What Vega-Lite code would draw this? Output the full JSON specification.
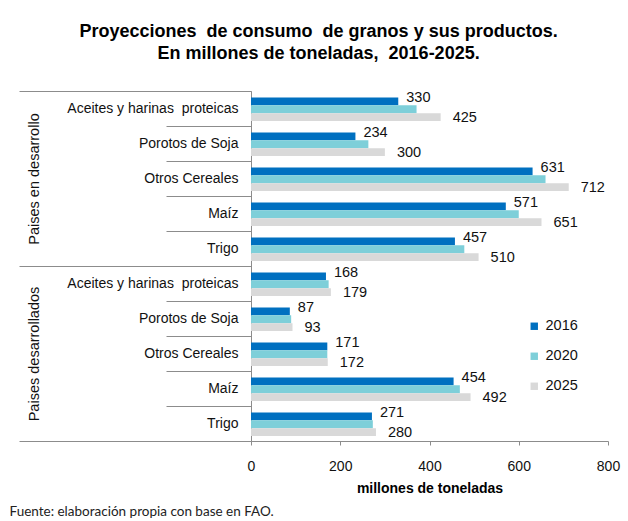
{
  "$schema": "https://vega.github.io/schema/vega-lite/v6.json",
  "padding": {"left": 9, "top": 23, "right": 10, "bottom": 0},
  "background": "white",
  "title": {
    "text": ["Proyecciones\u00a0 de consumo\u00a0 de granos y sus productos.", "En millones de toneladas,\u00a0 2016-2025."],
    "font": "Liberation Sans",
    "fontSize": 18,
    "fontWeight": "bold",
    "color": "#000000",
    "anchor": "middle",
    "frame": "bounds",
    "lineHeight": 22,
    "offset": 21,
    "dx": 4
  },
  "config": {
    "view": {"stroke": null},
    "font": "Liberation Sans"
  },
  "datasets": {
    "valores": [
      {"fila": "desarrollo|Aceites y harinas  proteicas", "anio": "2016", "valor": 330},
      {"fila": "desarrollo|Aceites y harinas  proteicas", "anio": "2020", "valor": 371},
      {"fila": "desarrollo|Aceites y harinas  proteicas", "anio": "2025", "valor": 425},
      {"fila": "desarrollo|Porotos de Soja", "anio": "2016", "valor": 234},
      {"fila": "desarrollo|Porotos de Soja", "anio": "2020", "valor": 263},
      {"fila": "desarrollo|Porotos de Soja", "anio": "2025", "valor": 300},
      {"fila": "desarrollo|Otros Cereales", "anio": "2016", "valor": 631},
      {"fila": "desarrollo|Otros Cereales", "anio": "2020", "valor": 660},
      {"fila": "desarrollo|Otros Cereales", "anio": "2025", "valor": 712},
      {"fila": "desarrollo|Maíz", "anio": "2016", "valor": 571},
      {"fila": "desarrollo|Maíz", "anio": "2020", "valor": 600},
      {"fila": "desarrollo|Maíz", "anio": "2025", "valor": 651},
      {"fila": "desarrollo|Trigo", "anio": "2016", "valor": 457},
      {"fila": "desarrollo|Trigo", "anio": "2020", "valor": 478},
      {"fila": "desarrollo|Trigo", "anio": "2025", "valor": 510},
      {"fila": "desarrollados|Aceites y harinas  proteicas", "anio": "2016", "valor": 168},
      {"fila": "desarrollados|Aceites y harinas  proteicas", "anio": "2020", "valor": 174},
      {"fila": "desarrollados|Aceites y harinas  proteicas", "anio": "2025", "valor": 179},
      {"fila": "desarrollados|Porotos de Soja", "anio": "2016", "valor": 87},
      {"fila": "desarrollados|Porotos de Soja", "anio": "2020", "valor": 90},
      {"fila": "desarrollados|Porotos de Soja", "anio": "2025", "valor": 93},
      {"fila": "desarrollados|Otros Cereales", "anio": "2016", "valor": 171},
      {"fila": "desarrollados|Otros Cereales", "anio": "2020", "valor": 171},
      {"fila": "desarrollados|Otros Cereales", "anio": "2025", "valor": 172},
      {"fila": "desarrollados|Maíz", "anio": "2016", "valor": 454},
      {"fila": "desarrollados|Maíz", "anio": "2020", "valor": 468},
      {"fila": "desarrollados|Maíz", "anio": "2025", "valor": 492},
      {"fila": "desarrollados|Trigo", "anio": "2016", "valor": 271},
      {"fila": "desarrollados|Trigo", "anio": "2020", "valor": 273},
      {"fila": "desarrollados|Trigo", "anio": "2025", "valor": 280}
    ],
    "grupos": [
      {"grupo": "Paises en desarrollo"},
      {"grupo": "Paises desarrollados"}
    ]
  },
  "vconcat": [
    {
      "title": {
        "text": "Fuente: elaboración propia con base en FAO.",
        "orient": "bottom",
        "anchor": "start",
        "frame": "bounds",
        "font": "Lato",
        "fontSize": 13.5,
        "fontWeight": "normal",
        "color": "#222222",
        "offset": 10,
        "dx": -9
      },
      "width": 357,
      "height": 350,
      "resolve": {"scale": {"y": "independent"}, "axis": {"y": "independent"}},
      "layer": [
        {
          "data": {"name": "valores"},
          "encoding": {
            "y": {
              "field": "fila", "type": "nominal",
              "sort": ["desarrollo|Aceites y harinas  proteicas", "desarrollo|Porotos de Soja", "desarrollo|Otros Cereales", "desarrollo|Maíz", "desarrollo|Trigo", "desarrollados|Aceites y harinas  proteicas", "desarrollados|Porotos de Soja", "desarrollados|Otros Cereales", "desarrollados|Maíz", "desarrollados|Trigo"],
              "scale": {"paddingInner": 0, "paddingOuter": 0},
              "axis": {
                "title": null,
                "orient": "left",
                "labelExpr": "datum.value ? replace(split(datum.value, '|')[1], '  ', '\u00a0 ') : ''",
                "tickBand": "extent",
                "tickSize": 85,
                "tickColor": "#8c8c8c",
                "domainColor": "#8c8c8c",
                "labelPadding": -72,
                "labelFontSize": 14,
                "labelColor": "#111111",
                "labelFont": "Liberation Sans"
              }
            },
            "yOffset": {
              "field": "anio", "type": "nominal",
              "scale": {"domain": ["2016", "2020", "2025"], "paddingInner": 0, "paddingOuter": 0.72, "align": 0.57}
            },
            "x": {
              "field": "valor", "type": "quantitative",
              "scale": {"domain": [0, 800]},
              "axis": {
                "title": "millones de toneladas",
                "titleFontWeight": "bold",
                "titleFontSize": 14,
                "titleColor": "#000000",
                "titlePadding": 8,
                "values": [0, 200, 400, 600, 800],
                "grid": false,
                "tickSize": 4,
                "tickColor": "#8c8c8c",
                "domainColor": "#8c8c8c",
                "labelFlush": false,
                "labelFontSize": 14,
                "labelColor": "#111111",
                "labelPadding": 14
              }
            }
          },
          "layer": [
            {
              "mark": {"type": "bar"},
              "encoding": {
                "color": {
                  "field": "anio", "type": "nominal",
                  "scale": {"domain": ["2016", "2020", "2025"], "range": ["#0070C0", "#7ECFD9", "#D9D9D9"]},
                  "legend": {
                    "title": null,
                    "orient": "none",
                    "legendX": 276,
                    "legendY": 228,
                    "symbolType": "square",
                    "symbolSize": 55,
                    "symbolStrokeWidth": 0,
                    "labelFontSize": 14.5,
                    "labelColor": "#111111",
                    "rowPadding": 15,
                    "labelOffset": 4
                  }
                }
              }
            },
            {
              "transform": [{"filter": "datum.anio == '2016'"}],
              "mark": {"type": "text", "align": "left", "baseline": "middle", "dx": 8, "dy": -3, "fontSize": 14.5, "color": "#111111"},
              "encoding": {
                "text": {"field": "valor", "type": "quantitative"}
              }
            },
            {
              "transform": [{"filter": "datum.anio == '2025'"}],
              "mark": {"type": "text", "align": "left", "baseline": "middle", "dx": 12, "dy": 1, "fontSize": 14.5, "color": "#111111"},
              "encoding": {
                "text": {"field": "valor", "type": "quantitative"}
              }
            }
          ]
        },
        {
          "data": {"name": "grupos"},
          "mark": {"type": "bar", "opacity": 0},
          "encoding": {
            "y": {
              "field": "grupo", "type": "nominal",
              "sort": ["Paises en desarrollo", "Paises desarrollados"],
              "scale": {"paddingInner": 0, "paddingOuter": 0},
              "axis": {
                "title": null,
                "orient": "left",
                "domain": false,
                "tickBand": "extent",
                "tickSize": 232,
                "tickColor": "#8c8c8c",
                "labelAngle": -90,
                "labelAlign": "center",
                "labelBaseline": "bottom",
                "labelPadding": -22,
                "labelFontSize": 14.5,
                "labelColor": "#111111"
              }
            }
          }
        }
      ]
    }
  ]
}
